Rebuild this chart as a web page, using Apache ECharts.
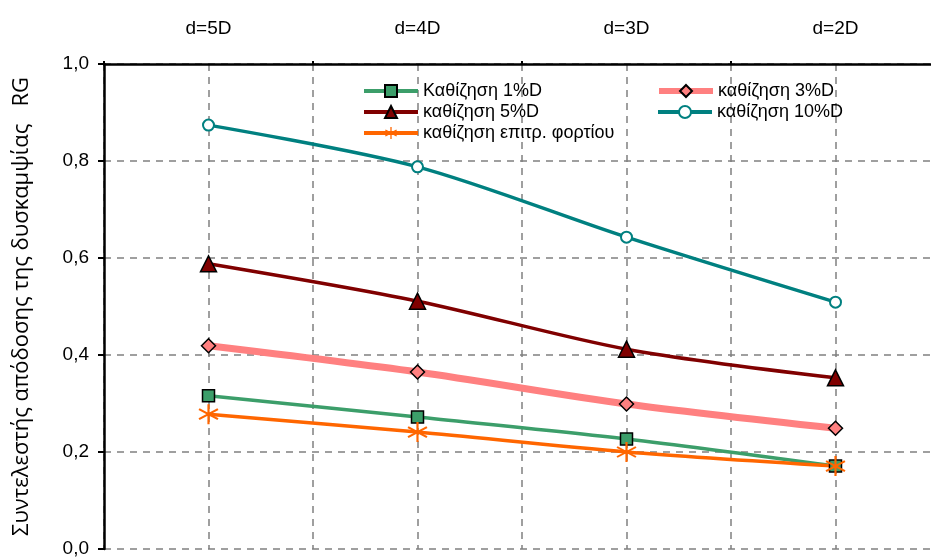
<!DOCTYPE html>
<html><head><meta charset="utf-8">
<script src="https://cdn.jsdelivr.net/npm/echarts@6/dist/echarts.min.js"></script>
<style>html,body{margin:0;padding:0;background:#fff}#c{width:931px;height:557px}</style>
</head><body><div id="c"></div>
<script>
const categories = ['d=5D', 'd=4D', 'd=3D', 'd=2D'];
const yTicks = [0, 0.2, 0.4, 0.6, 0.8, 1.0];
const names = ['Καθίζηση 1%D', 'καθίζηση 3%D', 'καθίζηση 5%D', 'καθίζηση 10%D', 'καθίζηση επιτρ. φορτίου'];
const s1 = [0.316, 0.272, 0.227, 0.171];
const s3 = [0.419, 0.365, 0.299, 0.249];
const s5 = [0.588, 0.511, 0.412, 0.353];
const s10 = [0.874, 0.788, 0.643, 0.509];
const sAllow = [0.278, 0.241, 0.200, 0.171];
const yTitle = 'Συντελεστής απόδοσης της δυσκαμψίας   RG';

const asterisk = 'path://M-1,-10L1,-10L1,10L-1,10Z M8.16,-5.87L9.16,-4.13L-8.16,5.87L-9.16,4.13Z M-9.16,-4.13L-8.16,-5.87L9.16,4.13L8.16,5.87Z';

const chart = echarts.init(document.getElementById('c'), null, {renderer: 'canvas'});
const font = 'Arial, "Liberation Sans", sans-serif';

function mk(name, data, color, width, symbol, size, fill, border, bw) {
  return {
    name, type: 'line', data, xAxisIndex: 0, smooth: 0.3,
    symbol, symbolSize: size, showAllSymbol: true, z: 3,
    lineStyle: {color, width},
    itemStyle: {color: fill, borderColor: border, borderWidth: bw},
    emphasis: {disabled: true}
  };
}

function leg(name, left, top, lw) {
  return {
    data: [name], left, top, itemWidth: 54, itemHeight: 15, itemGap: 4,
    lineStyle: {width: lw},
    textStyle: {fontFamily: font, fontSize: 18, color: '#000', padding: [0,0,0,0]},
    padding: 0
  };
}

chart.setOption({
  animation: false,
  backgroundColor: '#fff',
  grid: {left: 104, width: 836, top: 64, height: 485, containLabel: false, outerBoundsMode: 'none'},
  legend: [
    leg(names[0], 362, 82, 4),
    leg(names[1], 656, 82, 6),
    leg(names[2], 362, 103, 4),
    leg(names[3], 656, 103, 4),
    leg(names[4], 362, 124, 4)
  ],
  xAxis: [
    {type: 'category', position: 'top', data: categories, boundaryGap: true,
     axisLine: {show: true, onZero: false, lineStyle: {color: '#000', width: 2.5}},
     axisTick: {show: true, length: 3, inside: false, lineStyle: {color: '#000', width: 2}},
     axisLabel: {fontFamily: '"Liberation Sans Narrow", "Arial Narrow", Arial, sans-serif', fontSize: 19, color: '#000', margin: 26},
     splitLine: {show: false}},
    {type: 'value', position: 'bottom', min: 0, max: 8, interval: 1,
     axisLine: {show: false, onZero: false}, axisTick: {show: false}, axisLabel: {show: false},
     splitLine: {show: true, lineStyle: {color: '#808080', width: 1.5, type: [7, 6]}}}
  ],
  yAxis: {
    type: 'value', min: 0, max: 1, interval: 0.2,
    axisLine: {show: true, onZero: false, lineStyle: {color: '#000', width: 2.5}},
    axisTick: {show: true, length: 6, lineStyle: {color: '#000', width: 2}},
    axisLabel: {fontFamily: font, fontSize: 19, color: '#000', margin: 15,
      formatter: v => yTicks.includes(Math.round(v*10)/10) ? v.toFixed(1).replace('.', ',') : ''},
    splitLine: {show: true, lineStyle: {color: '#808080', width: 1.5, type: [7, 6]}},
    name: yTitle, nameLocation: 'middle', nameRotate: 90, nameGap: 71,
    nameTextStyle: {fontFamily: '"Open Sans", "Noto Sans", sans-serif', fontSize: 22, color: '#000'}
  },
  series: [
    mk(names[0], s1, '#3C9E6A', 3.5, 'rect', 12, '#3C9E6A', '#000', 1.5),
    mk(names[1], s3, '#FF8080', 7, 'diamond', 14, '#FF8080', '#000', 1.5),
    mk(names[2], s5, '#800000', 3.5, 'triangle', 16, '#800000', '#000', 1.5),
    mk(names[3], s10, '#008080', 3.5, 'emptyCircle', 11, '#008080', '#008080', 1.5),
    mk(names[4], sAllow, '#FF6600', 3.5, asterisk, 20, '#FF6600', '#FF6600', 0)
  ]
});
</script>
</body></html>
